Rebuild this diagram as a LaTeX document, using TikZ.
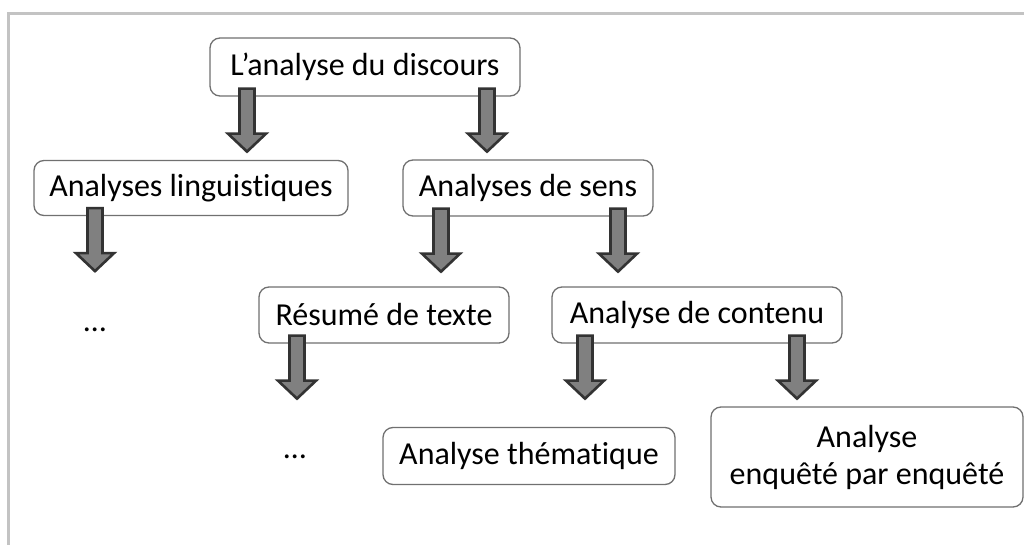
\documentclass[tikz,border=0pt]{standalone}
\usepackage{fontspec}
\setmainfont{Carlito}[Ligatures=NoCommon]
\usetikzlibrary{positioning}
\definecolor{boxgray}{HTML}{707070}
\definecolor{framegray}{HTML}{C3C3C3}

\begin{document}
\begin{tikzpicture}[x=1pt, y=-1pt]
                \tikzset{box/.style={draw=boxgray, line width=1.3pt, rounded corners=10pt, fill=white, align=center, inner sep=0pt, font=\fontsize{32}{37}\selectfont},
                         dots/.style={font=\fontsize{32}{37}\selectfont},
                         blockarrow/.style={draw=black!80, fill=black!50, line width=2.6pt, line join=miter}}
                \useasboundingbox (0,0) rectangle (1024,545);
                \draw[framegray, line width=3pt] (8.5,545) -- (8.5,13.5) -- (1024,13.5);
                \node[box, minimum width=310, minimum height=58] (disc) at (365,67) {L’analyse du discours};
                \node[box, minimum width=314, minimum height=55] (ling) at (191,188) {Analyses linguistiques};
                \node[box, minimum width=250, minimum height=56] (sens) at (528,188) {Analyses de sens};
                \node[box, minimum width=250, minimum height=56] (resume) at (384,315) {Résumé de texte};
                \node[box, minimum width=290, minimum height=56] (contenu) at (697,315) {Analyse de contenu};
                \node[box, minimum width=292, minimum height=57] (them) at (529,456) {Analyse thématique};
                \node[box, minimum width=312, minimum height=100] (enq) at (867,457) {Analyse\\enquêté par enquêté};
                \node[dots] (etc1) at (95,330) {…};
                \node[dots] (etc2) at (295,457) {…};
                \foreach \p/\x in {disc/247, disc/487, ling/95, sens/441, sens/618, resume/297, contenu/585, contenu/797}
                    \draw[blockarrow] (\x,0 |- \p.south) ++(-7.5,-8) -- ++(15,0) -- ++(0,45) -- ++(11.5,0)
                        -- ++(-19,18) -- ++(-19,-18) -- ++(11.5,0) -- cycle;
            \end{tikzpicture}
\end{document}
